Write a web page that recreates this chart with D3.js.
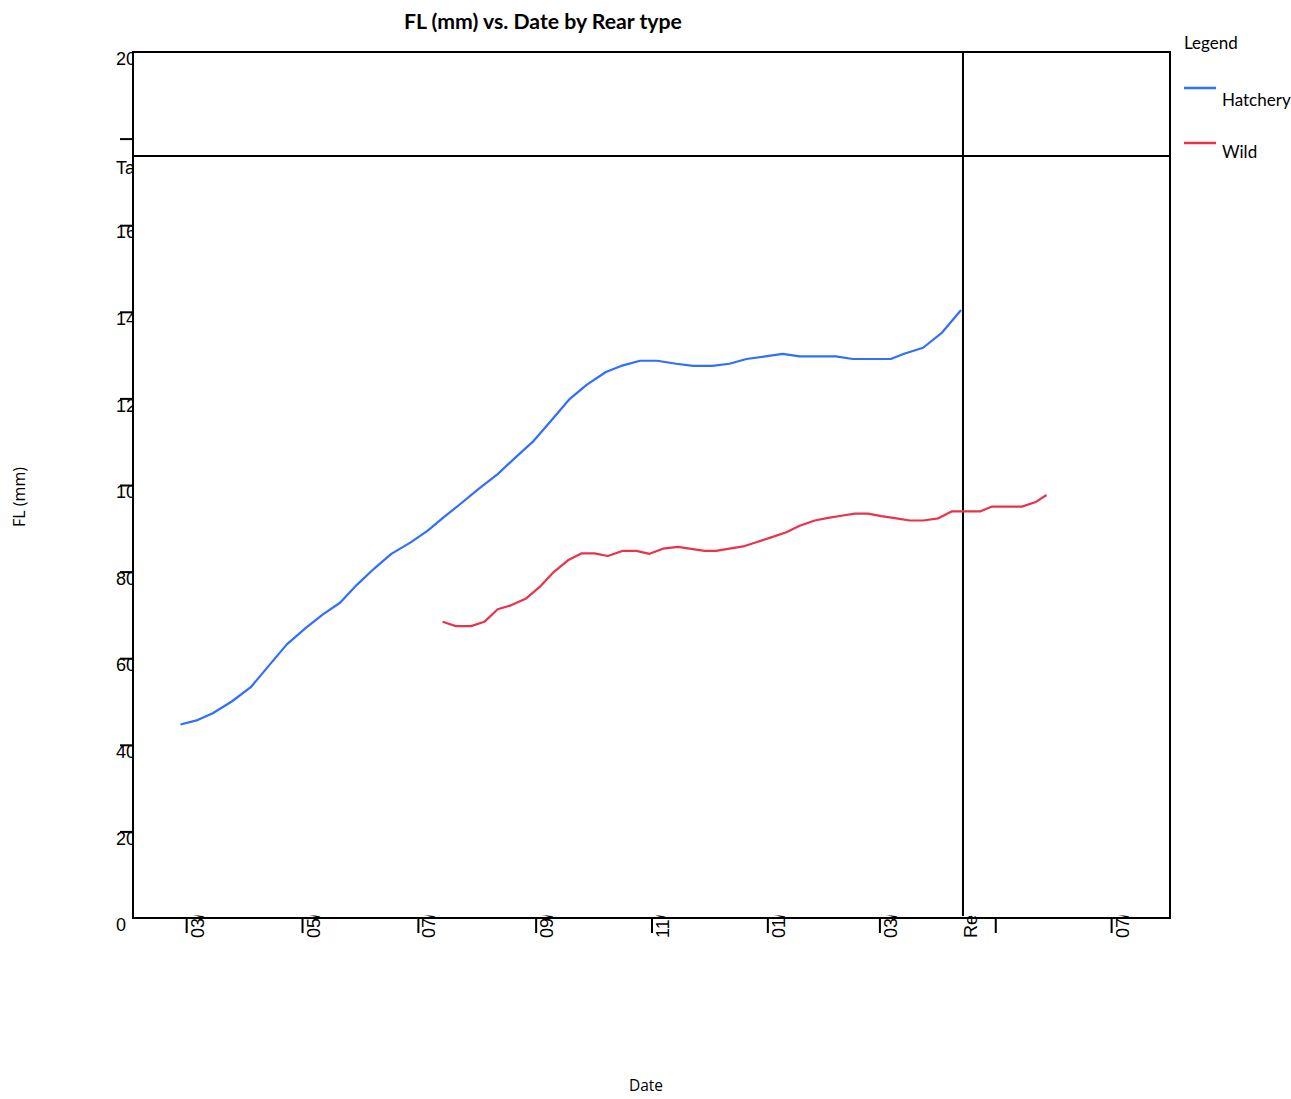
<!DOCTYPE html>
<html><head><meta charset="utf-8">
<script src="https://cdn.jsdelivr.net/npm/d3@7"></script>
<style>body{margin:0;background:#fff}svg{display:block}</style>
</head><body>
<script>
const hatcheryDates = ["2018-02-26","2018-03-07","2018-03-15","2018-03-25","2018-04-04","2018-04-13","2018-04-23","2018-05-03","2018-05-12","2018-05-21","2018-05-30","2018-06-08","2018-06-17","2018-06-27","2018-07-06","2018-07-15","2018-07-23","2018-08-02","2018-08-12","2018-08-21","2018-08-31","2018-09-09","2018-09-19","2018-09-28","2018-10-08","2018-10-16","2018-10-26","2018-11-04","2018-11-14","2018-11-23","2018-12-03","2018-12-12","2018-12-21","2018-12-31","2019-01-09","2019-01-18","2019-01-28","2019-02-06","2019-02-15","2019-02-25","2019-03-07","2019-03-14","2019-03-24","2019-04-03","2019-04-13"];
const hatcheryFL = [44.7,45.7,47.3,50.0,53.3,58.0,63.2,67.0,70.1,72.8,77.0,80.7,84.1,86.7,89.4,92.7,95.5,99.1,102.5,106.2,110.2,114.8,119.9,123.2,126.1,127.5,128.7,128.7,128.0,127.5,127.5,128.0,129.1,129.7,130.3,129.7,129.7,129.7,129.1,129.1,129.1,130.3,131.7,135.2,140.4];
const wildDates = ["2018-07-14","2018-07-21","2018-07-29","2018-08-05","2018-08-12","2018-08-19","2018-08-27","2018-09-03","2018-09-10","2018-09-18","2018-09-25","2018-10-02","2018-10-09","2018-10-17","2018-10-24","2018-10-31","2018-11-07","2018-11-15","2018-11-21","2018-11-29","2018-12-05","2018-12-12","2018-12-20","2018-12-27","2019-01-03","2019-01-11","2019-01-18","2019-01-26","2019-02-02","2019-02-09","2019-02-16","2019-02-23","2019-03-02","2019-03-10","2019-03-17","2019-03-24","2019-04-01","2019-04-08","2019-04-15","2019-04-23","2019-04-29","2019-05-07","2019-05-15","2019-05-22","2019-05-28"];
const wildFL = [68.4,67.4,67.4,68.4,71.3,72.2,73.8,76.4,79.7,82.6,84.2,84.2,83.6,84.8,84.8,84.1,85.3,85.7,85.3,84.8,84.8,85.3,85.9,86.9,87.9,89.1,90.6,91.8,92.4,92.9,93.4,93.4,92.8,92.3,91.8,91.8,92.3,93.9,93.9,93.9,95.0,95.0,95.0,96.0,97.7];
const xDomain = ["2018-02-01","2019-08-01"];
const xTickDates = ["2018-03-01","2018-05-01","2018-07-01","2018-09-01","2018-11-01","2019-01-01","2019-03-01","2019-05-01","2019-07-01"];
const yDomain = [0, 200];
const yTickValues = [0,20,40,60,80,100,120,140,160,180,200];
const targetFL = 176, targetLabel = "Target";
const releaseDate = "2019-04-14", releaseLabel = "Release";
const seriesNames = ["Hatchery","Wild"];
const seriesColors = ["#2f6eff","#ea3349"];
const titleText = "FL (mm) vs. Date by Rear type";
const xTitle = "Date", yTitle = "FL (mm)", legendTitle = "Legend";

const W = 1291, H = 1099;
const L = 133, R = 1170, T = 52, B = 918;
const parse = d3.utcParse("%Y-%m-%d");
const x = d3.scaleUtc().domain(xDomain.map(parse)).range([L, R]);
const y = d3.scaleLinear().domain(yDomain).range([B, T]);

const svg = d3.select("body").append("svg").attr("width", W).attr("height", H);
const defs = svg.append("defs");
defs.append("clipPath").attr("id","clipY").append("rect").attr("x",0).attr("y",0).attr("width",L-1).attr("height",H);
defs.append("clipPath").attr("id","clipX").append("rect").attr("x",0).attr("y",915.5).attr("width",W).attr("height",H-915.5);

const tickFont = "'Liberation Sans', Arial, sans-serif";
const labelFont = "'Open Sans', sans-serif";
const calFont = "Lato, 'Open Sans', sans-serif";

// Y axis
const yOuter = svg.append("g").attr("clip-path","url(#clipY)");
const yAx = yOuter.append("g").attr("transform",`translate(${L},0)`)
  .call(d3.axisLeft(y).tickValues(yTickValues).tickSize(13).tickFormat(d3.format("d")));
yAx.select(".domain").remove();
yAx.selectAll(".tick line").attr("stroke","#000").attr("stroke-width",2)
  .filter(d => d === yDomain[0] || d === yDomain[1]).remove();
yAx.selectAll(".tick text").attr("x",-17).attr("dy","0.71em").attr("text-anchor","start")
  .attr("fill","#000").style("font-family",tickFont).style("font-size","18px");
yAx.selectAll(".tick").filter(d => d === 180).select("text").remove();
yOuter.append("text").attr("x",L-17).attr("y",y(targetFL)+5).attr("dy","0.71em")
  .style("font-family",tickFont).style("font-size","18px").text(targetLabel);

// X axis
const xOuter = svg.append("g").attr("clip-path","url(#clipX)");
const xAx = xOuter.append("g").attr("transform",`translate(0,${B})`)
  .call(d3.axisBottom(x).tickValues(xTickDates.map(parse)).tickSize(15).tickFormat(d3.utcFormat("%m/%d/%Y")));
xAx.select(".domain").remove();
xAx.selectAll(".tick line").attr("stroke","#000").attr("stroke-width",2);
xAx.selectAll(".tick text").attr("transform","rotate(-90)").attr("x",-20).attr("y",17).attr("dy",null)
  .attr("text-anchor","start").attr("fill","#000").style("font-family",tickFont).style("font-size","18px");
xAx.selectAll(".tick").filter(d => +d === +parse("2019-05-01")).select("text").remove();
const rx = x(parse(releaseDate));
xOuter.append("text").attr("transform",`translate(${rx+14},938) rotate(-90)`).attr("text-anchor","start")
  .style("font-family",tickFont).style("font-size","18px").text(releaseLabel);

// Frame
svg.append("rect").attr("x",L).attr("y",T).attr("width",R-L).attr("height",B-T)
  .attr("fill","none").attr("stroke","#000").attr("stroke-width",2);

// Reference lines
svg.append("line").attr("x1",L).attr("x2",R).attr("y1",y(targetFL)).attr("y2",y(targetFL))
  .attr("stroke","#000").attr("stroke-width",2);
svg.append("line").attr("x1",rx).attr("x2",rx).attr("y1",T).attr("y2",B-2)
  .attr("stroke","#000").attr("stroke-width",2);

// Series
const line = d3.line().x(d => x(d[0])).y(d => y(d[1]));
const series = [
  hatcheryDates.map((d,i) => [parse(d), hatcheryFL[i]]),
  wildDates.map((d,i) => [parse(d), wildFL[i]])
];
series.forEach((s,i) => {
  svg.append("path").datum(s).attr("d",line).attr("fill","none")
    .attr("stroke",seriesColors[i]).attr("stroke-width",2.2).attr("stroke-linejoin","round");
});

// Title
const title = svg.append("text").attr("x",543).attr("y",22).attr("dy","0.35em").attr("text-anchor","middle")
  .style("font-family",calFont).style("font-weight","bold").style("font-size","19px").text(titleText);
const tw = title.node().getComputedTextLength();
title.style("font-size", (19*278/tw).toFixed(2)+"px");

// Axis titles
svg.append("text").attr("x",646).attr("y",1086).attr("dy","0.35em").attr("text-anchor","middle")
  .style("font-family",labelFont).style("font-size","15.5px").text(xTitle);
svg.append("text").attr("transform","translate(19,497) rotate(-90)").attr("dy","0.35em").attr("text-anchor","middle")
  .style("font-family",labelFont).style("font-size","16px").text(yTitle);

// Legend
svg.append("text").attr("x",1184).attr("y",43).attr("dy","0.35em")
  .style("font-family",calFont).style("font-size","17px").text(legendTitle);
const legY = [88,143], legTextY = [100,152];
seriesNames.forEach((n,i) => {
  svg.append("line").attr("x1",1184).attr("x2",1216).attr("y1",legY[i]).attr("y2",legY[i])
    .attr("stroke",seriesColors[i]).attr("stroke-width",2.5);
  svg.append("text").attr("x",1222).attr("y",legTextY[i]).attr("dy","0.35em")
    .style("font-family",calFont).style("font-size","17px").text(n);
});
</script>
</body></html>
